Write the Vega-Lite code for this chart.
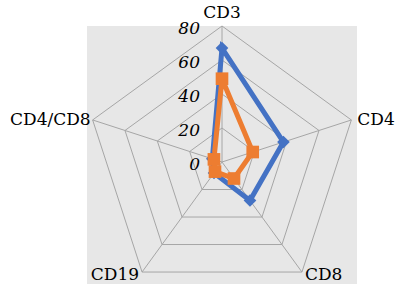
{
  "$schema": "https://vega.github.io/schema/vega-lite/v6.json",
  "width": 270,
  "height": 258,
  "autosize": {"type": "none"},
  "padding": {"left": 87, "right": 40, "top": 26, "bottom": 0},
  "background": "white",
  "view": {"fill": "#e7e7e7", "stroke": null},
  "config": {"font": "DejaVu Serif", "text": {"font": "DejaVu Serif"}},
  "datasets": {
    "series": [
      {"series": "A", "cat": "CD3", "k": 0, "value": 67},
      {"series": "A", "cat": "CD4", "k": 1, "value": 38},
      {"series": "A", "cat": "CD8", "k": 2, "value": 28},
      {"series": "A", "cat": "CD19", "k": 3, "value": 8},
      {"series": "A", "cat": "CD4/CD8", "k": 4, "value": 6},
      {"series": "B", "cat": "CD3", "k": 0, "value": 49},
      {"series": "B", "cat": "CD4", "k": 1, "value": 19},
      {"series": "B", "cat": "CD8", "k": 2, "value": 12},
      {"series": "B", "cat": "CD19", "k": 3, "value": 7},
      {"series": "B", "cat": "CD4/CD8", "k": 4, "value": 5}
    ],
    "grid": [
      {"level": 20, "k": 0}, {"level": 20, "k": 1}, {"level": 20, "k": 2}, {"level": 20, "k": 3}, {"level": 20, "k": 4}, {"level": 20, "k": 5},
      {"level": 40, "k": 0}, {"level": 40, "k": 1}, {"level": 40, "k": 2}, {"level": 40, "k": 3}, {"level": 40, "k": 4}, {"level": 40, "k": 5},
      {"level": 60, "k": 0}, {"level": 60, "k": 1}, {"level": 60, "k": 2}, {"level": 60, "k": 3}, {"level": 60, "k": 4}, {"level": 60, "k": 5},
      {"level": 80, "k": 0}, {"level": 80, "k": 1}, {"level": 80, "k": 2}, {"level": 80, "k": 3}, {"level": 80, "k": 4}, {"level": 80, "k": 5}
    ],
    "cats": [
      {"cat": "CD3", "k": 0, "level": 80},
      {"cat": "CD4", "k": 1, "level": 80},
      {"cat": "CD8", "k": 2, "level": 80},
      {"cat": "CD19", "k": 3, "level": 80},
      {"cat": "CD4/CD8", "k": 4, "level": 80}
    ],
    "ticks": [
      {"label": "0", "level": 0},
      {"label": "20", "level": 20},
      {"label": "40", "level": 40},
      {"label": "60", "level": 60},
      {"label": "80", "level": 80}
    ]
  },
  "layer": [
    {
      "data": {"name": "grid"},
      "transform": [
        {"calculate": "datum.level * sin(datum.k * 2 * PI / 5)", "as": "x"},
        {"calculate": "datum.level * cos(datum.k * 2 * PI / 5)", "as": "y"}
      ],
      "mark": {"type": "line", "stroke": "#a6a6a6", "strokeWidth": 1},
      "encoding": {
        "x": {"field": "x", "type": "quantitative", "scale": {"domain": [-79.41, 79.41], "nice": false, "zero": false}, "axis": null},
        "y": {"field": "y", "type": "quantitative", "scale": {"domain": [-71.76, 80], "nice": false, "zero": false}, "axis": null},
        "detail": {"field": "level", "type": "nominal"},
        "order": {"field": "k", "type": "quantitative"}
      }
    },
    {
      "data": {"name": "cats"},
      "transform": [
        {"calculate": "datum.level * sin(datum.k * 2 * PI / 5)", "as": "x"},
        {"calculate": "datum.level * cos(datum.k * 2 * PI / 5)", "as": "y"},
        {"calculate": "0", "as": "x0"},
        {"calculate": "0", "as": "y0"}
      ],
      "mark": {"type": "rule", "stroke": "#a6a6a6", "strokeWidth": 1},
      "encoding": {
        "x": {"field": "x0", "type": "quantitative"},
        "y": {"field": "y0", "type": "quantitative"},
        "x2": {"field": "x"},
        "y2": {"field": "y"}
      }
    },
    {
      "data": {"name": "series"},
      "transform": [
        {"calculate": "datum.value * sin(datum.k * 2 * PI / 5)", "as": "x"},
        {"calculate": "datum.value * cos(datum.k * 2 * PI / 5)", "as": "y"}
      ],
      "layer": [
        {
          "mark": {"type": "line", "strokeWidth": 5, "strokeJoin": "miter", "interpolate": "linear-closed"},
          "encoding": {
            "x": {"field": "x", "type": "quantitative"},
            "y": {"field": "y", "type": "quantitative"},
            "color": {"field": "series", "type": "nominal", "scale": {"domain": ["A", "B"], "range": ["#4472c4", "#ed7d31"]}, "legend": null},
            "order": {"field": "k", "type": "quantitative"}
          }
        },
        {
          "mark": {"type": "point", "filled": true, "opacity": 1, "size": 160},
          "encoding": {
            "x": {"field": "x", "type": "quantitative"},
            "y": {"field": "y", "type": "quantitative"},
            "color": {"field": "series", "type": "nominal", "legend": null},
            "shape": {"field": "series", "type": "nominal", "scale": {"domain": ["A", "B"], "range": ["diamond", "square"]}, "legend": null},
            "order": {"field": "series", "type": "nominal"}
          }
        }
      ]
    },
    {
      "data": {"name": "ticks"},
      "transform": [
        {"calculate": "0", "as": "x"}
      ],
      "mark": {"type": "text", "font": "DejaVu Serif", "fontStyle": "italic", "fontSize": 17, "align": "right", "baseline": "middle", "dx": -22, "dy": 3, "color": "black"},
      "encoding": {
        "x": {"field": "x", "type": "quantitative"},
        "y": {"field": "level", "type": "quantitative"},
        "text": {"field": "label"}
      }
    },
    {
      "data": {"name": "cats"},
      "transform": [
        {"calculate": "datum.level * sin(datum.k * 2 * PI / 5)", "as": "x"},
        {"calculate": "datum.level * cos(datum.k * 2 * PI / 5)", "as": "y"}
      ],
      "layer": [
        {
          "transform": [{"filter": "datum.k == 0"}],
          "mark": {"type": "text", "font": "DejaVu Serif", "fontSize": 17, "align": "center", "baseline": "alphabetic", "dy": -8, "color": "black"},
          "encoding": {"x": {"field": "x", "type": "quantitative"}, "y": {"field": "y", "type": "quantitative"}, "text": {"field": "cat"}}
        },
        {
          "transform": [{"filter": "datum.k == 1"}],
          "mark": {"type": "text", "font": "DejaVu Serif", "fontSize": 17, "align": "left", "baseline": "middle", "dx": 6, "color": "black"},
          "encoding": {"x": {"field": "x", "type": "quantitative"}, "y": {"field": "y", "type": "quantitative"}, "text": {"field": "cat"}}
        },
        {
          "transform": [{"filter": "datum.k == 2"}],
          "mark": {"type": "text", "font": "DejaVu Serif", "fontSize": 17, "align": "left", "baseline": "top", "dx": 3, "dy": -5, "color": "black"},
          "encoding": {"x": {"field": "x", "type": "quantitative"}, "y": {"field": "y", "type": "quantitative"}, "text": {"field": "cat"}}
        },
        {
          "transform": [{"filter": "datum.k == 3"}],
          "mark": {"type": "text", "font": "DejaVu Serif", "fontSize": 17, "align": "right", "baseline": "top", "dx": -3, "dy": -5, "color": "black"},
          "encoding": {"x": {"field": "x", "type": "quantitative"}, "y": {"field": "y", "type": "quantitative"}, "text": {"field": "cat"}}
        },
        {
          "transform": [{"filter": "datum.k == 4"}],
          "mark": {"type": "text", "font": "DejaVu Serif", "fontSize": 17, "align": "right", "baseline": "middle", "dx": -2, "color": "black"},
          "encoding": {"x": {"field": "x", "type": "quantitative"}, "y": {"field": "y", "type": "quantitative"}, "text": {"field": "cat"}}
        }
      ]
    }
  ]
}
